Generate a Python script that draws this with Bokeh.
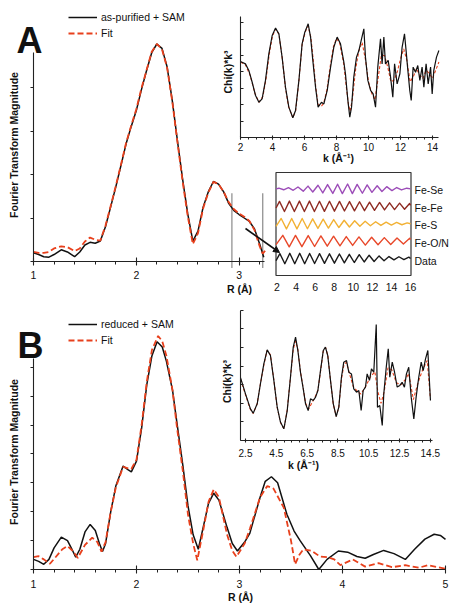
from math import pi
from bokeh.plotting import figure
from bokeh.models import (Range1d, LinearAxis, SingleIntervalTicker, FixedTicker,
                          Legend, LegendItem, Arrow, NormalHead, CustomJSTickFormatter)
from bokeh.layouts import column
from bokeh.embed import file_html
from bokeh.resources import INLINE
from bokeh.core.properties import value

FONT = "Liberation Sans"
RED = "#E8401C"
INK = "#111111"
AX = "#222222"

# ---------------- data: panel A, Fourier transform ----------------
R_A = [1.00, 1.05, 1.10, 1.15, 1.20, 1.27, 1.33, 1.40, 1.45, 1.50, 1.55, 1.60, 1.65, 1.70, 1.75,
       1.80, 1.85, 1.90, 1.95, 2.00, 2.05, 2.10, 2.15, 2.20, 2.25, 2.30, 2.35, 2.40, 2.45, 2.50,
       2.55, 2.60, 2.65, 2.70, 2.75, 2.80, 2.85, 2.90, 2.95, 3.00, 3.05, 3.10, 3.15, 3.20, 3.24]
ft_A = [0.20, 0.16, 0.11, 0.10, 0.16, 0.27, 0.22, 0.11, 0.22, 0.38, 0.44, 0.42, 0.47, 0.80, 1.25,
        1.71, 2.20, 2.70, 3.10, 3.47, 3.95, 4.39, 4.80, 5.00, 4.90, 4.47, 3.70, 2.78, 1.90, 1.10,
        0.47, 0.70, 1.25, 1.60, 1.84, 1.78, 1.60, 1.33, 1.17, 1.08, 1.00, 0.92, 0.75, 0.40, 0.10]
R_A_fit = [1.00, 1.05, 1.10, 1.15, 1.20, 1.27, 1.33, 1.40, 1.45, 1.50, 1.55, 1.60, 1.65, 1.70, 1.75,
           1.80, 1.85, 1.90, 1.95, 2.00, 2.05, 2.10, 2.15, 2.20, 2.25, 2.30, 2.35, 2.40, 2.45, 2.50,
           2.55, 2.60, 2.65, 2.70, 2.75, 2.80, 2.85, 2.90, 2.95, 3.00, 3.05, 3.10, 3.15, 3.20, 3.23, 3.27]
ft_A_fit = [0.22, 0.20, 0.20, 0.22, 0.30, 0.35, 0.33, 0.24, 0.30, 0.46, 0.55, 0.50, 0.48, 0.82, 1.27,
            1.73, 2.22, 2.72, 3.12, 3.50, 3.98, 4.40, 4.82, 5.00, 4.88, 4.45, 3.68, 2.75, 1.85, 1.05,
            0.40, 0.65, 1.22, 1.58, 1.83, 1.78, 1.60, 1.36, 1.20, 1.10, 1.03, 0.93, 0.72, 0.35, 0.18, 0.30]
fit_window_A = [2.93, 3.23]

# panel A inset: k^3 chi(k)
k_A = [2.00, 2.31, 2.52, 2.73, 2.94, 3.15, 3.35, 3.56, 3.77, 3.98, 4.19, 4.40, 4.60, 4.81, 5.02,
       5.27, 5.44, 5.65, 5.85, 6.02, 6.23, 6.38, 6.52, 6.69, 6.85, 7.06, 7.21, 7.42, 7.63, 7.83,
       8.04, 8.25, 8.46, 8.56, 8.71, 8.83, 8.94, 9.08, 9.25, 9.40, 9.54, 9.71, 9.81, 9.96, 10.13,
       10.29, 10.44, 10.58, 10.75, 10.85, 10.96, 11.06, 11.23, 11.38, 11.52, 11.63, 11.79, 11.96,
       12.10, 12.25, 12.35, 12.46, 12.58, 12.67, 12.79, 12.94, 13.08, 13.21, 13.35, 13.46, 13.60,
       13.73, 13.88, 13.98, 14.08, 14.25, 14.40]
chi_A = [4.63, 4.49, 4.09, 3.37, 2.56, 2.15, 2.36, 3.48, 5.10, 6.22, 6.67, 6.32, 4.90, 3.07, 1.85,
         1.20, 1.65, 3.48, 5.71, 6.42, 6.93, 6.12, 4.70, 3.07, 1.85, 2.15, 2.05, 2.87, 4.29, 5.50,
         6.12, 5.71, 4.59, 3.88, 2.26, 1.24, 1.85, 3.68, 4.90, 5.30, 5.91, 6.63, 4.90, 3.48, 2.87,
         2.66, 1.85, 4.29, 6.02, 4.49, 6.12, 4.49, 4.70, 3.68, 2.46, 4.49, 3.27, 3.88, 5.50, 6.32,
         5.30, 4.09, 2.87, 2.26, 4.29, 3.98, 4.39, 3.48, 4.29, 3.07, 4.49, 3.27, 4.29, 2.66, 4.09,
         4.90, 5.30]
k_A_fit = [2.0, 2.3, 2.6, 2.9, 3.15, 3.4, 3.6, 3.8, 4.0, 4.2, 4.4, 4.6, 4.8, 5.0, 5.27, 5.45, 5.65,
           5.85, 6.05, 6.22, 6.4, 6.55, 6.7, 6.85, 7.05, 7.2, 7.4, 7.6, 7.8, 8.0, 8.2, 8.45, 8.6,
           8.75, 8.85, 9.0, 9.2, 9.4, 9.6, 9.8, 10.0, 10.2, 10.4, 10.6, 10.8, 11.0, 11.2, 11.4,
           11.6, 11.8, 12.0, 12.2, 12.4, 12.6, 12.8, 13.0, 13.2, 13.4, 13.6, 13.8, 14.0, 14.2, 14.4]
chi_A_fit = [4.6, 4.45, 3.8, 2.7, 2.15, 2.5, 3.6, 5.1, 6.2, 6.62, 6.3, 4.9, 3.1, 1.9, 1.2, 1.65,
             3.45, 5.65, 6.45, 6.8, 6.1, 4.7, 3.1, 2.0, 1.9, 2.1, 2.9, 4.3, 5.5, 6.05, 5.75, 4.5,
             3.2, 2.0, 1.6, 2.4, 4.2, 5.3, 5.8, 4.8, 3.4, 2.7, 2.3, 3.6, 5.0, 5.0, 4.3, 3.4, 3.5,
             4.0, 4.8, 5.4, 4.7, 3.4, 3.7, 4.2, 3.8, 3.6, 4.1, 3.9, 3.6, 4.1, 4.6]

# panel A component inset: extrema of each filtered shell
comp_names = ["Fe-Se", "Fe-Fe", "Fe-S", "Fe-O/N", "Data"]
comp_colors = ["#9C4DB8", "#8E2B22", "#F2B134", "#E8482A", "#1A1A1A"]
comp_offsets = [4, 3, 2, 1, 0]
k_FeSe = [1.9, 2.2, 2.7, 3.2, 3.7, 4.2, 4.75, 5.25, 5.75, 6.3, 6.8, 7.3, 7.85, 8.35, 8.85, 9.4,
          9.9, 10.4, 10.95, 11.45, 11.95, 12.5, 13.0, 13.5, 14.05, 14.55, 15.05, 15.6, 16.0]
v_FeSe = [0, 0.04, -0.05, 0.07, -0.08, 0.11, -0.13, 0.16, -0.18, 0.21, -0.23, 0.25, -0.26, 0.27,
          -0.27, 0.28, -0.27, 0.26, -0.25, 0.23, -0.2, 0.18, -0.15, 0.13, -0.1, 0.08, -0.06, 0.04, 0]
k_FeFe = [1.9, 2.26, 2.78, 3.3, 3.82, 4.35, 4.87, 5.4, 5.92, 6.45, 6.97, 7.5, 8.02, 8.55, 9.07,
          9.6, 10.12, 10.65, 11.17, 11.7, 12.22, 12.75, 13.27, 13.8, 14.32, 14.85, 15.37, 15.9, 16.0]
v_FeFe = [-0.1, 0.28, -0.3, 0.3, -0.3, 0.3, -0.3, 0.3, -0.3, 0.29, -0.29, 0.29, -0.28, 0.28, -0.27,
          0.27, -0.26, 0.26, -0.25, 0.24, -0.23, 0.22, -0.21, 0.2, -0.19, 0.18, -0.17, 0.16, 0.05]
k_FeS = [1.9, 2.44, 2.99, 3.54, 4.09, 4.64, 5.19, 5.74, 6.29, 6.84, 7.39, 7.94, 8.49, 9.04, 9.59,
         10.14, 10.69, 11.24, 11.79, 12.34, 12.89, 13.44, 13.99, 14.54, 15.09, 15.64, 16.0]
v_FeS = [-0.15, 0.3, -0.3, 0.3, -0.3, 0.3, -0.29, 0.28, -0.27, 0.26, -0.25, 0.24, -0.22, 0.2, -0.19,
         0.17, -0.15, 0.14, -0.12, 0.11, -0.1, 0.09, -0.08, 0.07, -0.06, 0.05, 0]
k_FeON = [1.9, 2.61, 3.28, 3.94, 4.61, 5.27, 5.94, 6.6, 7.27, 7.93, 8.6, 9.26, 9.93, 10.59, 11.26,
          11.92, 12.59, 13.25, 13.92, 14.58, 15.25, 15.91, 16.0]
v_FeON = [-0.2, 0.33, -0.33, 0.33, -0.32, 0.32, -0.31, 0.3, -0.29, 0.28, -0.27, 0.26, -0.25, 0.24,
          -0.23, 0.22, -0.21, 0.2, -0.19, 0.18, -0.17, 0.16, 0.1]
k_Data = [1.9, 2.3, 2.82, 3.34, 3.86, 4.38, 4.9, 5.42, 5.94, 6.46, 6.98, 7.5, 8.02, 8.54, 9.06, 9.58,
          10.1, 10.62, 11.14, 11.66, 12.18, 12.7, 13.22, 13.74, 14.26, 14.78, 15.3, 15.82, 16.0]
v_Data = [-0.12, 0.28, -0.3, 0.3, -0.3, 0.3, -0.3, 0.29, -0.29, 0.28, -0.28, 0.27, -0.27, 0.26, -0.25,
          0.24, -0.23, 0.22, -0.2, 0.19, -0.17, 0.15, -0.13, 0.11, -0.08, 0.1, -0.06, 0.08, 0]
comp_k = [k_FeSe, k_FeFe, k_FeS, k_FeON, k_Data]
comp_v = [v_FeSe, v_FeFe, v_FeS, v_FeON, v_Data]

# ---------------- data: panel B ----------------
R_B = [1.00, 1.05, 1.10, 1.15, 1.20, 1.27, 1.33, 1.38, 1.41, 1.45, 1.50, 1.55, 1.60, 1.64, 1.67,
       1.70, 1.75, 1.80, 1.87, 1.92, 1.95, 2.00, 2.05, 2.10, 2.15, 2.20, 2.25, 2.29, 2.35, 2.39,
       2.45, 2.50, 2.55, 2.60, 2.65, 2.70, 2.75, 2.80, 2.88, 2.93, 2.98, 3.05, 3.10, 3.20, 3.25,
       3.31, 3.37, 3.46, 3.53, 3.59, 3.69, 3.77, 3.85, 3.96, 4.05, 4.14, 4.22, 4.30, 4.40, 4.50,
       4.61, 4.70, 4.80, 4.89, 4.95, 5.00]
ft_B = [0.35, 0.28, 0.18, 0.35, 0.75, 1.12, 1.00, 0.65, 0.43, 0.70, 1.30, 1.56, 1.35, 0.90, 0.62,
        0.90, 2.00, 2.90, 3.58, 3.45, 3.38, 3.75, 4.90, 6.40, 7.40, 7.88, 7.70, 7.21, 6.20, 5.14,
        3.60, 2.20, 1.20, 0.70, 1.50, 2.30, 2.64, 2.40, 1.45, 0.90, 0.64, 0.95, 1.25, 2.50, 3.05,
        3.21, 3.00, 1.91, 1.33, 0.99, 0.47, 0.00, 0.35, 0.64, 0.60, 0.45, 0.39, 0.52, 0.66, 0.55,
        0.35, 0.70, 1.05, 1.22, 1.18, 1.04]
R_B_fit = [1.00, 1.05, 1.10, 1.16, 1.22, 1.28, 1.33, 1.38, 1.43, 1.50, 1.57, 1.62, 1.66, 1.70, 1.75,
           1.80, 1.87, 1.92, 1.95, 2.00, 2.05, 2.10, 2.15, 2.21, 2.25, 2.29, 2.35, 2.39, 2.45, 2.50,
           2.55, 2.59, 2.65, 2.70, 2.75, 2.80, 2.88, 2.93, 2.97, 3.05, 3.10, 3.20, 3.27, 3.33, 3.43,
           3.50, 3.54, 3.58, 3.62, 3.70, 3.78, 3.85, 3.92, 3.98, 4.10, 4.22, 4.35, 4.48, 4.61, 4.74,
           4.83, 5.00]
ft_B_fit = [0.43, 0.46, 0.35, 0.20, 0.45, 0.70, 0.81, 0.65, 0.40, 0.85, 1.10, 0.95, 0.62, 0.95, 2.00,
            2.85, 3.55, 3.50, 3.48, 3.80, 5.00, 6.50, 7.60, 8.08, 7.90, 7.40, 6.20, 5.00, 3.40, 1.90,
            0.90, 0.32, 1.40, 2.35, 2.77, 2.50, 1.20, 0.65, 0.44, 0.90, 1.40, 2.50, 2.89, 2.80, 2.14,
            1.00, 0.18, 0.50, 0.70, 0.65, 0.45, 0.43, 0.35, 0.15, 0.35, 0.10, 0.22, 0.08, 0.15, 0.06,
            0.15, 0.03]

k_B = [2.18, 2.50, 2.82, 3.00, 3.26, 3.47, 3.69, 3.91, 4.12, 4.34, 4.56, 4.77, 4.99, 5.21, 5.42,
       5.60, 5.75, 5.90, 6.07, 6.25, 6.40, 6.57, 6.72, 6.90, 7.05, 7.20, 7.37, 7.55, 7.69, 7.84,
       8.02, 8.20, 8.39, 8.56, 8.73, 8.88, 9.06, 9.21, 9.38, 9.53, 9.71, 9.86, 10.01, 10.14, 10.29,
       10.40, 10.55, 10.68, 10.83, 10.99, 11.07, 11.22, 11.38, 11.48, 11.64, 11.77, 11.87, 12.03,
       12.18, 12.35, 12.52, 12.67, 12.82, 12.95, 13.10, 13.26, 13.43, 13.58, 13.75, 13.91, 14.04,
       14.19, 14.34, 14.43, 14.51]
chi_B = [3.37, 2.51, 1.70, 1.47, 1.97, 3.05, 4.12, 4.87, 4.57, 3.23, 1.79, 0.99, 0.63, 1.61, 3.40,
         5.02, 5.56, 4.84, 3.67, 2.78, 1.97, 1.61, 2.24, 2.15, 2.33, 2.69, 3.76, 4.84, 5.02, 4.57,
         3.23, 1.97, 1.29, 1.79, 3.40, 4.21, 4.30, 3.67, 3.58, 2.78, 2.60, 2.69, 1.61, 2.69, 2.87,
         3.58, 3.23, 3.85, 3.67, 6.24, 1.79, 1.88, 0.81, 2.51, 3.94, 4.93, 3.40, 4.21, 3.67, 2.87,
         2.96, 3.13, 2.87, 3.58, 3.94, 2.33, 1.16, 2.33, 3.40, 4.21, 3.76, 4.39, 4.84, 3.40, 2.15]
k_B_fit = [2.18, 2.5, 2.8, 3.0, 3.25, 3.47, 3.7, 3.9, 4.12, 4.35, 4.55, 4.78, 5.0, 5.2, 5.42, 5.6,
           5.75, 5.9, 6.07, 6.25, 6.4, 6.6, 6.8, 7.0, 7.2, 7.37, 7.55, 7.7, 7.85, 8.02, 8.2, 8.39,
           8.56, 8.73, 8.9, 9.05, 9.25, 9.5, 9.8, 10.0, 10.3, 10.6, 10.9, 11.1, 11.3, 11.5, 11.75,
           12.0, 12.3, 12.6, 12.9, 13.1, 13.4, 13.7, 14.0, 14.3, 14.5]
chi_B_fit = [3.3, 2.45, 1.7, 1.45, 1.95, 3.05, 4.1, 4.85, 4.6, 3.2, 1.8, 0.95, 0.62, 1.6, 3.4, 4.9,
             5.35, 4.9, 3.7, 2.8, 2.0, 1.7, 2.0, 2.3, 2.7, 3.7, 4.8, 5.0, 4.55, 3.2, 1.95, 1.3, 1.8,
             3.3, 4.1, 4.2, 3.6, 2.9, 2.6, 2.5, 2.9, 3.4, 3.7, 2.6, 2.0, 2.6, 3.9, 3.8, 3.1, 3.0,
             3.3, 3.6, 2.2, 3.1, 3.8, 4.3, 2.3]
kB_ticks = [2.5, 4.5, 6.5, 8.5, 10.5, 12.5, 14.5]
kB_minor = [3.0, 3.5, 4.0, 5.0, 5.5, 6.0, 7.0, 7.5, 8.0, 9.0, 9.5, 10.0, 11.0, 11.5, 12.0,
            13.0, 13.5, 14.0]

# ---------------- layout helpers (page pixels; the Bokeh page has no body margin) ----------------
PAGE_L, PAGE_R = 0, 452
W = PAGE_R - PAGE_L


def xr(v_at, p_at, ppu):
    return Range1d(start=v_at + (PAGE_L - p_at) / ppu, end=v_at + (PAGE_R - p_at) / ppu)


def yr(v_at, p_at, ppu, top, bottom):
    return Range1d(start=v_at - (bottom - p_at) / ppu, end=v_at + (p_at - top) / ppu)


def new_fig(top, height, x_range, y_range, xs, ys):
    p = figure(width=W, height=height, x_range=x_range, y_range=y_range,
               x_axis_type=None, y_axis_type=None, toolbar_location=None,
               output_backend="svg", min_border=0, outline_line_color=None,
               background_fill_color="white", border_fill_color="white")
    p.min_border_left = 0
    p.min_border_right = 0
    p.min_border_top = 0
    p.min_border_bottom = 0
    xd = {"px": Range1d(PAGE_L, PAGE_R)}
    xd.update(xs)
    yd = {"py": Range1d(-(top + height), -top)}
    yd.update(ys)
    p.extra_x_ranges = xd
    p.extra_y_ranges = yd
    return p


def label(p, x, y, s, size="10.5px", bold=False, align="center", baseline="middle",
          angle=0.0, color=INK):
    p.text(x=[x], y=[-y], text=[s], x_range_name="px", y_range_name="py",
           text_font=value(FONT), text_font_size=size,
           text_font_style="bold" if bold else "normal",
           text_align=align, text_baseline=baseline, angle=angle, text_color=color)


def add_axis(p, side, loc, bounds, ticker, xname="default", yname="default", tin=0, tout=4,
             mtin=0, mtout=0, standoff=5, size="10.5px", labels=True, line=True):
    ax = LinearAxis(x_range_name=xname, y_range_name=yname, fixed_location=loc, bounds=bounds,
                    ticker=ticker, major_tick_in=tin, major_tick_out=tout,
                    minor_tick_in=mtin, minor_tick_out=mtout, major_label_standoff=standoff,
                    major_label_text_font=FONT, major_label_text_font_size=size,
                    major_label_text_color=INK,
                    axis_line_color=AX if line else None, axis_line_width=1.1,
                    major_tick_line_color=AX if (tin or tout) else None,
                    minor_tick_line_color=AX if (mtin or mtout) else None,
                    major_tick_line_width=1.1, minor_tick_line_width=1)
    if not labels:
        ax.formatter = CustomJSTickFormatter(code="return ''")
    p.add_layout(ax, side)
    return ax


def make_legend(p, items, loc):
    leg = Legend(items=items, location=loc, glyph_width=29, glyph_height=16, label_height=16,
                 label_standoff=4, spacing=0, padding=0, margin=0,
                 border_line_color=None, background_fill_alpha=0,
                 label_text_font=FONT, label_text_font_size="10.5px", label_text_color=INK)
    p.add_layout(leg)


# ================= panel A =================
A_TOP, A_H = 0, 300
A_BOT = A_TOP + A_H
pA = new_fig(A_TOP, A_H, xr(1.0, 33, 102.8), yr(0.0, 261, 43.5, A_TOP, A_BOT),
             {"kA": xr(2.0, 240, 16.0), "kC": xr(2.0, 276.5, 9.54)},
             {"cA": yr(0.0, 137, 16.4, A_TOP, A_BOT), "cC": yr(0.0, 258, 17.4, A_TOP, A_BOT)})

# fit window markers
pA.segment(x0=fit_window_A, y0=-0.15, x1=fit_window_A, y1=1.57, line_color="#8a8a8a", line_width=1.2)

rA_data = pA.line(R_A, ft_A, line_color=INK, line_width=1.5)
rA_fit = pA.line(R_A_fit, ft_A_fit, line_color=RED, line_width=1.8, line_dash="6 3")

add_axis(pA, "below", 0, (1, 3.25), SingleIntervalTicker(interval=1, num_minor_ticks=5),
         tin=4, tout=4, mtin=0, mtout=3, standoff=5)
add_axis(pA, "left", 1, (0, 4.8), SingleIntervalTicker(interval=1, num_minor_ticks=0),
         tin=0, tout=3, labels=False)

# inset: k-space
pA.line(k_A_fit, chi_A_fit, x_range_name="kA", y_range_name="cA", line_color=RED,
        line_width=1.1, line_dash="3 2")
pA.line(k_A, chi_A, x_range_name="kA", y_range_name="cA", line_color=INK, line_width=1.2)
add_axis(pA, "below", 0, (2, 14.4), SingleIntervalTicker(interval=2, num_minor_ticks=4),
         "kA", "cA", tin=2, tout=2, mtin=0, mtout=2, standoff=3, size="10px")
add_axis(pA, "left", 2, (0, 7.4), SingleIntervalTicker(interval=1, num_minor_ticks=0),
         "kA", "cA", tin=3, tout=0, labels=False)

# inset: filtered components
pA.quad(left=275.5, right=410.5, top=-172, bottom=-275, x_range_name="px", y_range_name="py",
        fill_color=None, line_color="#333333", line_width=1.2)
for ks, vs, off, col in zip(comp_k, comp_v, comp_offsets, comp_colors):
    pA.line(ks, [v + off for v in vs], x_range_name="kC", y_range_name="cC",
            line_color=col, line_width=1.4, line_join="round")
add_axis(pA, "below", (258 - 275) / 17.4, (1.9, 16.05), SingleIntervalTicker(interval=2),
         "kC", "cC", tin=0, tout=0, standoff=7, size="10.5px", line=False)
for name, ypix in zip(comp_names, [189, 207, 224.5, 242, 260]):
    label(pA, 414, ypix, name, align="left")

pA.add_layout(Arrow(end=NormalHead(size=6, fill_color=INK, line_color=INK),
                    x_start=245, y_start=-228, x_end=279, y_end=-252,
                    x_range_name="px", y_range_name="py", line_color=INK, line_width=1.6))

make_legend(pA, [LegendItem(label="as-purified + SAM", renderers=[rA_data]),
                 LegendItem(label="Fit", renderers=[rA_fit])], (68 - PAGE_L, A_BOT - 41))

label(pA, 16, 40, "A", size="36px", bold=True, align="left", baseline="alphabetic")
label(pA, 13, 144.5, "Fourier Transform Magnitude", bold=True, angle=pi / 2)
label(pA, 239, 288, "R (Å)", bold=True)
label(pA, 227, 71.5, "Chi(k)*k³", bold=True, angle=pi / 2)
label(pA, 338, 157, "k (Å⁻¹)", bold=True)

# ================= panel B =================
B_TOP, B_H = 300, 304
B_BOT = B_TOP + B_H
pB = new_fig(B_TOP, B_H, xr(1.0, 33, 103.0), yr(0.0, 569, 28.9, B_TOP, B_BOT),
             {"kB": xr(2.5, 245, 15.4)},
             {"cB": yr(0.0, 440, 18.6, B_TOP, B_BOT)})

rB_data = pB.line(R_B, ft_B, line_color=INK, line_width=1.5)
rB_fit = pB.line(R_B_fit, ft_B_fit, line_color=RED, line_width=1.8, line_dash="6 3")

add_axis(pB, "below", 0, (1, 5), SingleIntervalTicker(interval=1, num_minor_ticks=5),
         tin=4, tout=4, mtin=0, mtout=3, standoff=6)
add_axis(pB, "left", 1, (0, 7.3), SingleIntervalTicker(interval=1, num_minor_ticks=0),
         tin=0, tout=3, labels=False)

pB.line(k_B_fit, chi_B_fit, x_range_name="kB", y_range_name="cB", line_color=RED,
        line_width=1.1, line_dash="3 2")
pB.line(k_B, chi_B, x_range_name="kB", y_range_name="cB", line_color=INK, line_width=1.2)
add_axis(pB, "below", 0, (2.18, 14.65), FixedTicker(ticks=kB_ticks, minor_ticks=kB_minor),
         "kB", "cB", tin=2, tout=2, mtin=0, mtout=2, standoff=6, size="10px")
add_axis(pB, "left", 2.18, (0, 7.0), SingleIntervalTicker(interval=1, num_minor_ticks=0),
         "kB", "cB", tin=3, tout=0, labels=False)

make_legend(pB, [LegendItem(label="reduced + SAM", renderers=[rB_data]),
                 LegendItem(label="Fit", renderers=[rB_fit])], (68 - PAGE_L, B_BOT - 348))

label(pB, 17, 345, "B", size="36px", bold=True, align="left", baseline="alphabetic")
label(pB, 13, 451.5, "Fourier Transform Magnitude", bold=True, angle=pi / 2)
label(pB, 240, 596, "R (Å)", bold=True)
label(pB, 226, 381, "Chi(k)*k³", bold=True, angle=pi / 2)
label(pB, 303, 464, "k (Å⁻¹)", bold=True)

layout = column(pA, pB, spacing=0)
open("out.html", "w").write(file_html(layout, INLINE))
